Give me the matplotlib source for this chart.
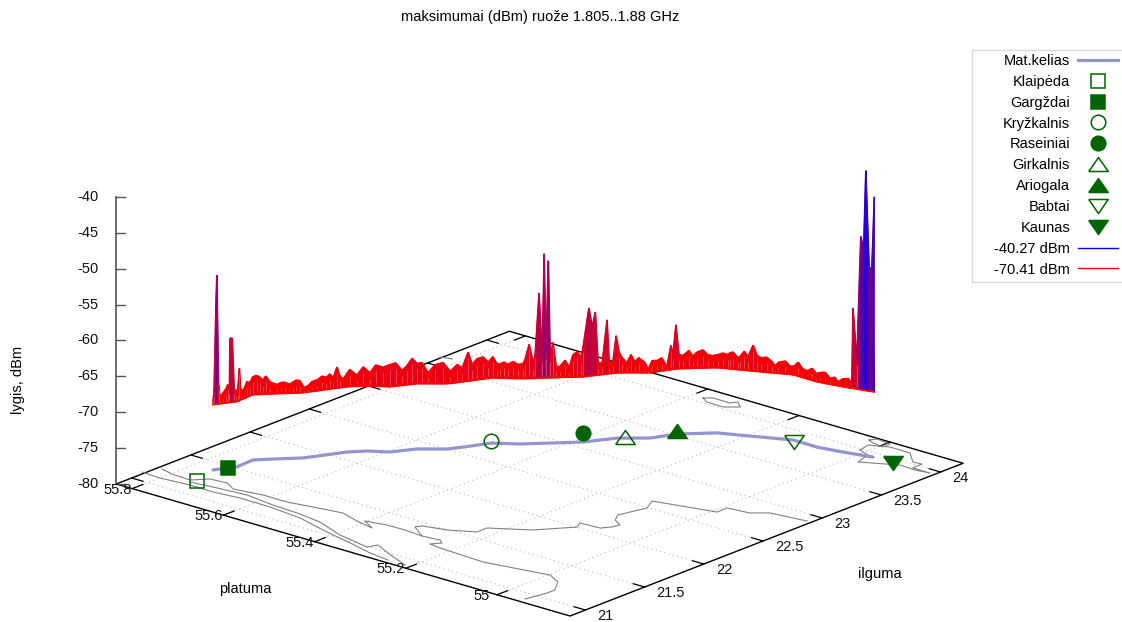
import numpy as np
import matplotlib
matplotlib.use("Agg")
import matplotlib.pyplot as plt
from matplotlib.collections import LineCollection
from matplotlib.colors import LinearSegmentedColormap, Normalize
from matplotlib.lines import Line2D
from matplotlib.patches import Rectangle

plt.rcParams['font.family'] = ['Liberation Sans', 'DejaVu Sans']
plt.rcParams['font.size'] = 10.5

# route on the ground plane
route_lon = [21.394, 21.518, 21.662, 21.747, 21.868, 21.944, 22.101, 22.187, 22.257, 22.393, 22.501, 22.583, 22.738,
             22.827, 22.948, 23.080, 23.252, 23.371, 23.519, 23.677, 23.758, 23.865, 23.863, 23.895, 23.942]
route_lat = [55.759, 55.739, 55.741, 55.719, 55.685, 55.673, 55.649, 55.627, 55.595, 55.571, 55.533, 55.519, 55.496,
             55.458, 55.423, 55.385, 55.355, 55.314, 55.293, 55.247, 55.195, 55.128, 55.075, 55.027, 54.973]

# towns
town_names = ["Klaipėda", "Gargždai", "Kryžkalnis", "Raseiniai", "Girkalnis", "Ariogala", "Babtai", "Kaunas"]
town_lon = [21.199, 21.472, 22.759, 23.192, 23.294, 23.556, 23.843, 23.940]
town_lat = [55.744, 55.747, 55.504, 55.415, 55.349, 55.303, 55.121, 54.929]
town_marker = ["s", "s", "o", "o", "up", "up", "down", "down"]
town_filled = [False, True, False, True, False, True, False, True]

# measured maximum along the route
sample_lon = [21.394, 21.399, 21.410, 21.415, 21.422, 21.430, 21.446, 21.461, 21.472, 21.479, 21.484, 21.495, 21.503,
              21.513, 21.527, 21.540, 21.554, 21.581, 21.608, 21.635, 21.662, 21.679, 21.692, 21.704, 21.717, 21.734,
              21.763, 21.779, 21.795, 21.812, 21.828, 21.840, 21.856, 21.873, 21.895, 21.917, 21.944, 21.970, 21.991,
              22.012, 22.028, 22.049, 22.064, 22.080, 22.114, 22.144, 22.170, 22.196, 22.214, 22.236, 22.257, 22.287,
              22.317, 22.343, 22.368, 22.393, 22.411, 22.433, 22.458, 22.487, 22.516, 22.552, 22.578, 22.610, 22.631,
              22.658, 22.690, 22.717, 22.741, 22.754, 22.763, 22.776, 22.789, 22.805, 22.821, 22.839, 22.847, 22.863,
              22.879, 22.887, 22.904, 22.916, 22.924, 22.932, 22.940, 22.948, 22.960, 22.972, 22.988, 23.008, 23.024,
              23.040, 23.056, 23.072, 23.080, 23.100, 23.110, 23.125, 23.141, 23.156, 23.176, 23.201, 23.211, 23.232,
              23.247, 23.259, 23.270, 23.288, 23.303, 23.317, 23.331, 23.353, 23.364, 23.382, 23.409, 23.437, 23.464,
              23.486, 23.497, 23.513, 23.527, 23.543, 23.566, 23.582, 23.598, 23.622, 23.641, 23.661, 23.679, 23.692,
              23.704, 23.709, 23.717, 23.729, 23.734, 23.744, 23.753, 23.765, 23.775, 23.785, 23.800, 23.813, 23.820,
              23.828, 23.845, 23.858, 23.865, 23.865, 23.864, 23.864, 23.864, 23.863, 23.867, 23.873, 23.879, 23.885,
              23.889, 23.895, 23.904, 23.909, 23.911, 23.917, 23.923, 23.928, 23.931, 23.936, 23.940, 23.945]
sample_lat = [55.759, 55.758, 55.757, 55.756, 55.754, 55.753, 55.751, 55.748, 55.747, 55.745, 55.745, 55.743, 55.741,
              55.740, 55.739, 55.739, 55.740, 55.740, 55.740, 55.741, 55.741, 55.737, 55.733, 55.730, 55.727, 55.722,
              55.714, 55.710, 55.705, 55.700, 55.696, 55.692, 55.688, 55.684, 55.681, 55.677, 55.673, 55.669, 55.666,
              55.663, 55.660, 55.657, 55.655, 55.652, 55.646, 55.638, 55.631, 55.623, 55.615, 55.605, 55.595, 55.590,
              55.584, 55.580, 55.575, 55.571, 55.565, 55.557, 55.548, 55.538, 55.530, 55.524, 55.520, 55.515, 55.512,
              55.508, 55.503, 55.499, 55.495, 55.489, 55.485, 55.480, 55.474, 55.467, 55.461, 55.454, 55.452, 55.447,
              55.442, 55.440, 55.436, 55.432, 55.430, 55.428, 55.425, 55.423, 55.420, 55.416, 55.412, 55.406, 55.401,
              55.397, 55.392, 55.387, 55.385, 55.381, 55.380, 55.377, 55.374, 55.372, 55.368, 55.364, 55.362, 55.359,
              55.356, 55.353, 55.349, 55.343, 55.338, 55.333, 55.328, 55.320, 55.316, 55.312, 55.309, 55.305, 55.301,
              55.298, 55.296, 55.294, 55.291, 55.286, 55.279, 55.275, 55.270, 55.263, 55.257, 55.252, 55.245, 55.238,
              55.230, 55.226, 55.222, 55.214, 55.211, 55.204, 55.198, 55.190, 55.184, 55.178, 55.169, 55.161, 55.156,
              55.151, 55.140, 55.133, 55.126, 55.117, 55.108, 55.097, 55.086, 55.077, 55.069, 55.060, 55.051, 55.042,
              55.036, 55.027, 55.016, 55.011, 55.009, 55.002, 54.995, 54.990, 54.986, 54.980, 54.975, 54.971]
sample_level = [-70.41, -69.23, -58.21, -52.92, -68.11, -69.92, -69.51, -68.95, -68.39, -68.81, -61.98, -61.98, -68.95,
                -69.51, -69.23, -66.44, -69.51, -69.65, -68.67, -69.09, -68.39, -68.25, -68.53, -68.95, -68.39, -69.23,
                -69.65, -69.37, -69.37, -69.65, -69.37, -69.09, -69.23, -70.20, -70.06, -69.51, -69.37, -68.95, -69.23,
                -68.81, -69.37, -67.97, -69.23, -69.79, -68.53, -69.37, -68.25, -69.09, -67.97, -68.25, -67.83, -67.69,
                -68.81, -68.25, -67.28, -68.11, -67.97, -69.37, -68.25, -67.97, -69.23, -68.39, -68.95, -66.86, -68.67,
                -67.97, -67.83, -68.67, -67.97, -68.95, -68.95, -68.67, -68.95, -68.53, -68.95, -68.81, -68.25, -66.16,
                -68.81, -67.55, -59.05, -67.97, -53.61, -67.41, -54.59, -67.97, -66.02, -69.37, -69.37, -68.53, -69.51,
                -67.83, -67.41, -68.11, -66.72, -62.81, -61.42, -64.07, -62.12, -69.23, -69.23, -63.37, -69.23, -69.23,
                -65.74, -67.97, -68.81, -69.51, -68.39, -69.37, -68.81, -69.51, -70.41, -69.23, -69.37, -69.09, -70.41,
                -67.55, -68.67, -64.77, -68.95, -69.09, -68.39, -69.23, -68.67, -68.39, -69.09, -69.23, -69.09, -68.81,
                -68.95, -68.67, -68.53, -69.23, -69.09, -68.25, -68.95, -67.28, -68.67, -68.95, -68.81, -69.37, -69.92,
                -69.37, -69.09, -69.79, -69.65, -68.95, -69.65, -69.79, -69.23, -69.79, -69.51, -69.37, -70.06, -69.79,
                -70.34, -69.79, -69.65, -70.34, -59.75, -66.72, -49.57, -51.25, -40.27, -54.03, -53.50, -43.72]
fence_floor = -70.9

# map outlines
spit_lon = [21.112, 21.102, 21.124, 21.120, 21.143, 21.140, 21.112, 21.035, 20.982, 20.930, 20.908]
spit_lat = [55.841, 55.800, 55.739, 55.688, 55.635, 55.568, 55.495, 55.416, 55.351, 55.294, 55.249]
spit2_lon = [21.161, 21.182, 21.206, 21.175, 21.163, 21.134, 21.045, 20.993, 21.058, 20.995, 20.907]
spit2_lat = [55.749, 55.704, 55.636, 55.571, 55.515, 55.457, 55.390, 55.317, 55.310, 55.272, 55.211]
coast_lon = [21.221, 21.195, 21.186, 21.271, 21.283, 21.230, 21.264, 21.263, 21.295, 21.329, 21.280, 21.248, 21.309,
             21.339, 21.342, 21.329, 21.344, 21.314, 21.259, 21.245, 21.227, 21.307, 21.249, 21.139, 21.073, 20.919]
coast_lat = [55.826, 55.797, 55.755, 55.734, 55.699, 55.672, 55.615, 55.563, 55.514, 55.457, 55.414, 55.372, 55.404,
             55.363, 55.324, 55.284, 55.248, 55.236, 55.248, 55.222, 55.123, 54.997, 54.965, 54.943, 54.943, 54.951]
river_lon = [21.329, 21.416, 21.457, 21.494, 21.578, 21.664, 21.805, 22.002, 22.062, 22.072, 22.128, 22.182, 22.226,
             22.299, 22.491, 22.596, 22.694, 22.780, 22.801, 22.874, 22.908]
river_lat = [55.284, 55.322, 55.315, 55.272, 55.228, 55.228, 55.164, 55.118, 55.128, 55.086, 55.075, 55.071, 55.093,
             55.106, 55.092, 55.108, 54.991, 54.992, 54.947, 54.922, 54.849]
kaunas_lon = [23.982, 24.073, 24.128, 24.126, 24.025, 24.032, 23.950, 23.949, 23.933, 23.940, 23.826, 23.949, 23.982]
kaunas_lat = [55.012, 55.018, 54.984, 54.940, 54.907, 54.889, 54.888, 54.850, 54.879, 54.913, 54.976, 54.986, 55.012]
lagoon_lon = [24.139, 24.180, 24.165, 24.103, 24.116, 24.139]
lagoon_lat = [55.033, 55.026, 54.994, 54.993, 55.018, 55.033]
north_lon = [24.061, 24.097, 24.096, 24.137, 24.083, 24.021, 24.025, 24.061]
north_lat = [55.377, 55.364, 55.327, 55.320, 55.301, 55.323, 55.359, 55.377]
stub_lon = [23.619, 23.638]
stub_lat = [55.839, 55.817]
map_lines = [(spit_lon, spit_lat), (spit2_lon, spit2_lat), (coast_lon, coast_lat), (river_lon, river_lat),
             (kaunas_lon, kaunas_lat), (lagoon_lon, lagoon_lat), (north_lon, north_lat), (stub_lon, stub_lat)]

lon_ticks = [21, 21.5, 22, 22.5, 23, 23.5, 24]
lon_labels = ["21", "21.5", "22", "22.5", "23", "23.5", "24"]
lat_ticks = [55.8, 55.6, 55.4, 55.2, 55.0]
lat_labels = ["55.8", "55.6", "55.4", "55.2", "55"]
z_ticks = [-40, -45, -50, -55, -60, -65, -70, -75, -80]

lon_min, lon_max = 20.87, 24.19
lat_min, lat_max = 54.84, 55.835

GREEN = '#006400'
ROUTE = '#9494cc'

# gnuplot triangles are wider than they are tall, first point repeated to close the outline
marker_shapes = {
    "s": "s",
    "o": "o",
    "up": [(-1, -0.72), (1, -0.72), (0, 0.72), (-1, -0.72)],
    "down": [(-1, 0.72), (1, 0.72), (0, -0.72), (-1, 0.72)],
}


def project(lon, lat, z=-80.0):
    # fixed oblique view, like "set view" in gnuplot; result is in figure pixels
    lon = np.asarray(lon, dtype=float)
    lat = np.asarray(lat, dtype=float)
    z = np.asarray(z, dtype=float)
    x = 570 + 118.4 * (lon - lon_min) - 456 * (lat - lat_min)
    y = 616 - 46 * (lon - lon_min) - 132.7 * (lat - lat_min) - 7.175 * (z + 80)
    return x, y


fig = plt.figure(figsize=(11.22, 6.22), dpi=100)
ax = fig.add_axes([0, 0, 1, 1])
ax.set_xlim(0, 1122)
ax.set_ylim(622, 0)
ax.axis('off')

# dotted grid on the ground
for lon in lon_ticks:
    ax.plot(*project([lon, lon], [lat_min, lat_max]), color='#bbbbbb', lw=0.8, ls=(0, (1, 3)), zorder=1)
for lat in lat_ticks:
    ax.plot(*project([lon_min, lon_max], [lat, lat]), color='#bbbbbb', lw=0.8, ls=(0, (1, 3)), zorder=1)

# ground border
ax.plot(*project([lon_min, lon_max, lon_max, lon_min, lon_min], [lat_max, lat_max, lat_min, lat_min, lat_max]),
        color='black', lw=1.0, zorder=2)

# ticks on the ground, both sides
for lon, label in zip(lon_ticks, lon_labels):
    ax.plot(*project([lon, lon], [lat_min, lat_min + 0.025]), color='black', lw=0.9, zorder=2)
    ax.plot(*project([lon, lon], [lat_max, lat_max - 0.025]), color='black', lw=0.9, zorder=2)
    x, y = project(lon, lat_min)
    ax.text(x + 12, y + 6, label, ha='left', va='center', color='#111111')
for lat, label in zip(lat_ticks, lat_labels):
    ax.plot(*project([lon_min, lon_min + 0.09], [lat, lat]), color='black', lw=0.9, zorder=2)
    ax.plot(*project([lon_max, lon_max - 0.09], [lat, lat]), color='black', lw=0.9, zorder=2)
    x, y = project(lon_min, lat)
    ax.text(x - 15, y + 1, label, ha='center', va='center', color='#111111')

# vertical axis
ax.plot(*project([lon_min, lon_min], [lat_max, lat_max], [-80, -40]), color='#555555', lw=1.2, zorder=2)
for z in z_ticks:
    x, y = project(lon_min, lat_max, z)
    ax.plot([x, x + 9], [y, y], color='#555555', lw=1.0, zorder=2)
    ax.text(x - 18, y, str(z), ha='right', va='center', color='#111111')

# map
for lon, lat in map_lines:
    ax.plot(*project(lon, lat), color='#808080', lw=0.8, zorder=3)

# route and towns
ax.plot(*project(route_lon, route_lat), color=ROUTE, lw=2.3, solid_capstyle='round', zorder=4)
handles = [Line2D([], [], color=ROUTE, lw=2.3, label="Mat.kelias")]
for i in range(len(town_names)):
    size = 10.5 if town_marker[i] in ('s', 'o') else 14
    face = GREEN if town_filled[i] else 'none'
    shape = marker_shapes[town_marker[i]]
    ax.plot(*project(town_lon[i], town_lat[i]), marker=shape, ms=size, mfc=face, mec=GREEN, mew=1.1, ls='none',
            zorder=5)
    handles.append(Line2D([], [], marker=shape, ms=size, mfc=face, mec=GREEN, mew=1.1, ls='none',
                          label=town_names[i]))

# fence from the floor level to the measured value, each column takes the colour of its value
cmap = LinearSegmentedColormap.from_list('level', ['#ff0000', '#0000ff'])
norm = Normalize(vmin=min(sample_level), vmax=max(sample_level))
levels = np.array(sample_level)
floor = np.full(len(levels), fence_floor)
x_low, y_low = project(sample_lon, sample_lat, floor)
x_top, y_top = project(sample_lon, sample_lat, levels)
ax.pcolormesh(np.vstack([x_low, x_top]), np.vstack([y_low, y_top]), np.vstack([levels, levels]),
              shading='gouraud', cmap=cmap, norm=norm, zorder=6)
top_points = np.column_stack([x_top, y_top])
segments = np.stack([top_points[:-1], top_points[1:]], axis=1)
top_line = LineCollection(segments, colors=cmap(norm((levels[:-1] + levels[1:]) / 2)), linewidths=1.2, zorder=7)
ax.add_collection(top_line)
ax.plot(x_low, y_low, color='#ff0000', lw=1.3, zorder=7)

# pale slits between the columns of the low part
slits = []
for i in range(len(levels)):
    if levels[i] < -66:
        _, y_slit = project(sample_lon[i], sample_lat[i], levels[i] - 0.8)
        slits.append([(x_low[i], y_low[i] - 2), (x_low[i], y_slit)])
ax.add_collection(LineCollection(slits, colors='white', alpha=0.3, linewidths=0.6, zorder=8))

handles.append(Line2D([], [], color='#0000ff', lw=1.0, label="-40.27 dBm"))
handles.append(Line2D([], [], color='#ff0000', lw=1.0, label="-70.41 dBm"))

# legend box runs past the right edge
ax.add_patch(Rectangle((972, 50), 160, 232, facecolor='white', edgecolor='#d8d8d8', lw=1.0, zorder=9))
leg = ax.legend(handles=handles, loc='upper right', bbox_to_anchor=(1118, 54), bbox_transform=ax.transData,
                markerfirst=False, frameon=False, borderpad=0, borderaxespad=0, handlelength=2.74, handletextpad=0.55,
                labelspacing=0.47, numpoints=1)
leg.set_zorder(10)

ax.text(540, 17, "maksimumai (dBm) ruože 1.805..1.88 GHz", ha='center', va='center')
ax.text(18, 380, "lygis, dBm", ha='center', va='center', rotation=90)
ax.text(245, 589, "platuma", ha='center', va='center')
ax.text(880, 574, "ilguma", ha='center', va='center')

fig.savefig("out.png", dpi=100)
